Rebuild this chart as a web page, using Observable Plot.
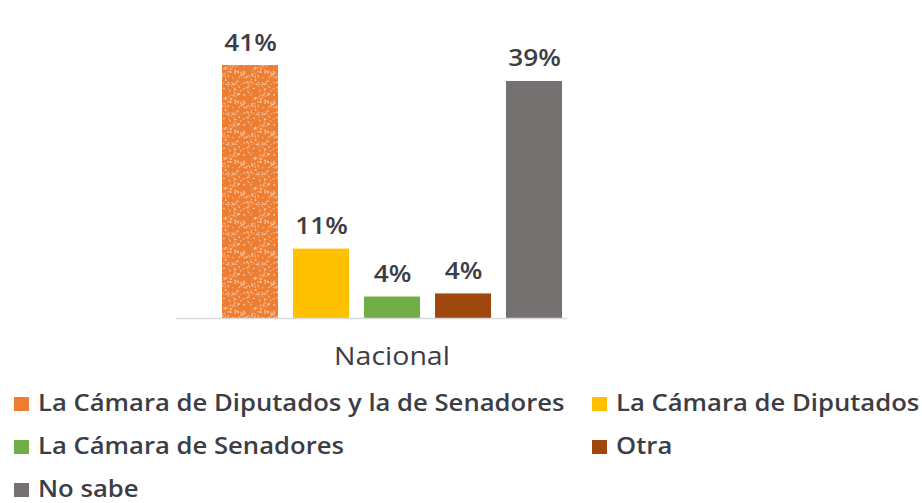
<!DOCTYPE html>
<html>
<head>
<meta charset="utf-8">
<script src="https://cdn.jsdelivr.net/npm/d3@7"></script>
<script src="https://cdn.jsdelivr.net/npm/@observablehq/plot@0.6"></script>
<style>
  html, body { margin: 0; padding: 0; background: #fff; }
  #wrap { position: relative; width: 922px; height: 503px; overflow: hidden; font-family: "Open Sans", Lato, sans-serif; color: #3d3d45; }
  #chart { position: absolute; left: 0; top: 0; }
  .xlab { position: absolute; font-size: 25px; font-weight: 500; line-height: 30px; white-space: nowrap; transform: translateX(-50%) scaleX(1.14); }
  .leg { position: absolute; font-size: 22.5px; font-weight: 600; line-height: 30px; white-space: nowrap; transform: scaleX(1.14); transform-origin: 0 50%; }
  .sw { position: absolute; width: 15px; height: 14px; }
</style>
</head>
<body>
<div id="wrap">
  <div id="chart"></div>
</div>
<script>
const group = "Nacional";
const categories = [
  "La Cámara de Diputados y la de Senadores",
  "La Cámara de Diputados",
  "La Cámara de Senadores",
  "Otra",
  "No sabe"
];
const values = [41.2, 11.3, 3.5, 4.0, 38.6];
const valueLabels = ["41%", "11%", "4%", "4%", "39%"];
const colors = ["#ED7D31", "#FFC000", "#70AD47", "#9E480E", "#767171"];

const data = categories.map((c, i) => ({cat: c, value: values[i], label: valueLabels[i]}));

const chart = Plot.plot({
  width: 922,
  height: 340,
  marginLeft: 176,
  marginRight: 355,
  marginTop: 0,
  marginBottom: 22,
  style: {fontFamily: "'Open Sans', Lato, sans-serif", background: "transparent"},
  x: {domain: categories, range: [213.25, 570.75], paddingInner: 0.217, paddingOuter: 0.1085, axis: null},
  y: {domain: [0, 41.2], range: [318, 65], axis: null},
  color: {domain: categories, range: colors},
  marks: [
    Plot.barY(data, {x: "cat", y: "value", fill: "cat"}),
    Plot.barY(data.slice(0, 1), {x: "cat", y: "value", fill: "url(#speckle)"}),
    Plot.ruleY([0], {stroke: "#d9d9d9", strokeWidth: 1.5}),
    Plot.text(data, {x: "cat", y: "value", text: "label", dy: -15, lineAnchor: "bottom",
      fontSize: 23, fontWeight: 600, fill: "#3d3d45"})
  ]
});

// widen the value labels horizontally (reference is horizontally stretched)
d3.select(chart).selectAll("text").each(function () {
  const x = +(this.getAttribute("x") || 0);
  const y = +(this.getAttribute("y") || 0);
  this.removeAttribute("x");
  this.removeAttribute("y");
  const t = this.getAttribute("transform") || "";
  this.setAttribute("transform", `${t} translate(${x},${y}) scale(1.14,1)`);
});

// speckle pattern for the first bar
const svgNS = "http://www.w3.org/2000/svg";
const defs = document.createElementNS(svgNS, "defs");
const pat = document.createElementNS(svgNS, "pattern");
pat.setAttribute("id", "speckle");
pat.setAttribute("patternUnits", "userSpaceOnUse");
pat.setAttribute("width", 30);
pat.setAttribute("height", 30);
let seed = 11;
function lcg() { seed = (seed * 16807) % 2147483647; return seed / 2147483647; }
for (let k = 0; k < 110; k++) {
  const r = document.createElementNS(svgNS, "rect");
  r.setAttribute("x", (lcg() * 30).toFixed(1));
  r.setAttribute("y", (lcg() * 30).toFixed(1));
  r.setAttribute("width", (0.8 + lcg() * 1.2).toFixed(1));
  r.setAttribute("height", (0.8 + lcg() * 1.0).toFixed(1));
  r.setAttribute("fill", "#ffffff");
  r.setAttribute("fill-opacity", (0.25 + lcg() * 0.35).toFixed(2));
  pat.appendChild(r);
}
defs.appendChild(pat);
chart.insertBefore(defs, chart.firstChild);
document.getElementById("chart").appendChild(chart);

const wrap = document.getElementById("wrap");
// x category label
const xl = document.createElement("div");
xl.className = "xlab";
xl.textContent = group;
xl.style.left = "392px";
xl.style.top = (355 - 15) + "px";
wrap.appendChild(xl);

// legend (Excel-like two-column layout)
const legPos = [
  [14, 404], [592, 404],
  [14, 447], [592, 447],
  [14, 490]
];
categories.forEach((c, i) => {
  const [lx, ly] = legPos[i];
  const sw = document.createElement("div");
  sw.className = "sw";
  sw.style.left = lx + "px";
  sw.style.top = (ly - 7) + "px";
  sw.style.background = colors[i];
  wrap.appendChild(sw);
  const t = document.createElement("div");
  t.className = "leg";
  t.textContent = c;
  t.style.left = (lx + 24) + "px";
  t.style.top = (ly - 16) + "px";
  wrap.appendChild(t);
});
</script>
</body>
</html>
